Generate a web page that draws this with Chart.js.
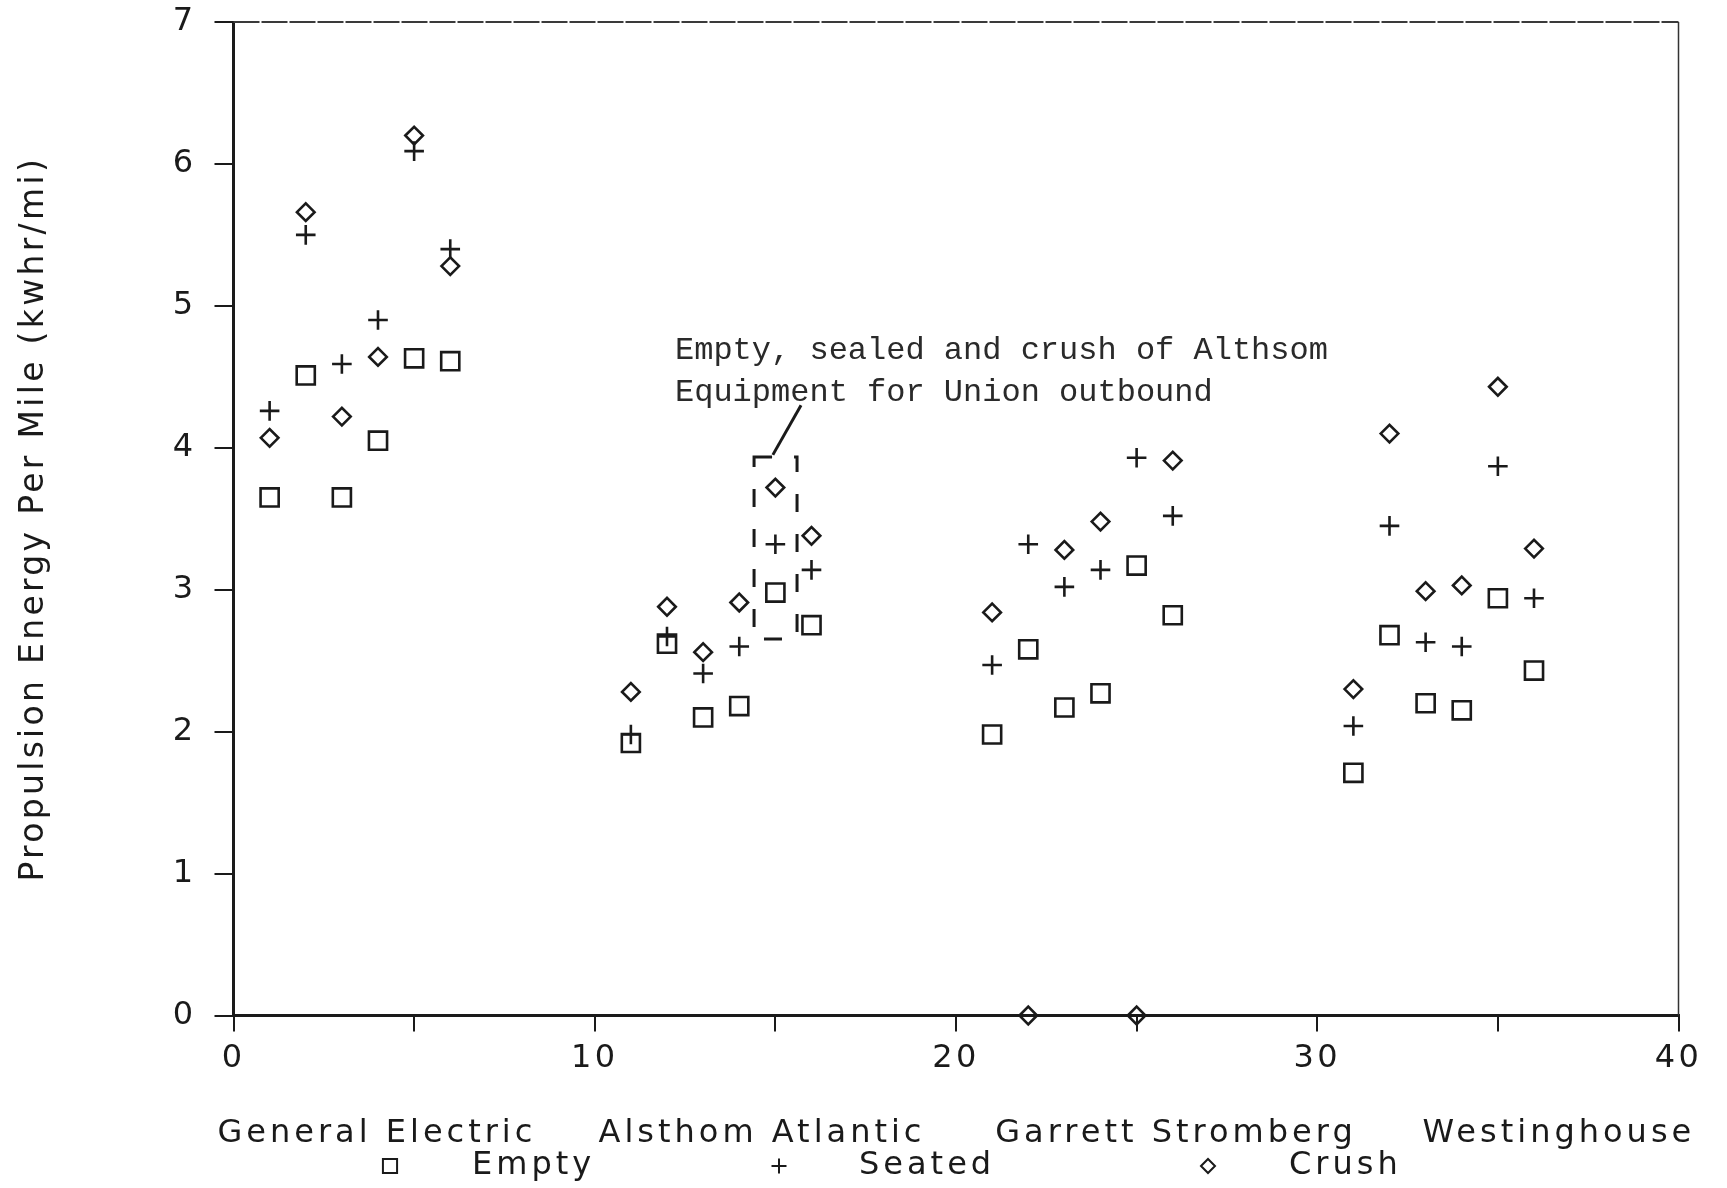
<!DOCTYPE html>
<html>
<head>
<meta charset="utf-8">
<script src="https://cdn.jsdelivr.net/npm/chart.js@4.4.1/dist/chart.umd.min.js"></script>
<style>
html, body { margin: 0; padding: 0; background: #fff; }
#energyChart { display: block; }
</style>
</head>
<body>
<canvas id="energyChart" width="1727" height="1188"></canvas>
<script>

// run numbers: 1-6 GE, 11-16 Alsthom, 21-26 Garrett, 31-36 Westinghouse
const runIndex = [1, 2, 3, 4, 5, 6, 11, 12, 13, 14, 15, 16, 21, 22, 23, 24, 25, 26, 31, 32, 33, 34, 35, 36];

const emptyEnergy = [3.65, 4.51, 3.65, 4.05, 4.63, 4.61, 1.92, 2.62, 2.10, 2.18, 2.98, 2.75, 1.98, 2.58, 2.17, 2.27, 3.17, 2.82, 1.71, 2.68, 2.20, 2.15, 2.94, 2.43];
const seatedEnergy = [4.26, 5.50, 4.59, 4.90, 6.09, 5.40, 1.98, 2.67, 2.41, 2.60, 3.32, 3.14, 2.47, 3.32, 3.02, 3.14, 3.93, 3.52, 2.04, 3.45, 2.63, 2.60, 3.87, 2.94];
const crushEnergy = [4.07, 5.66, 4.22, 4.64, 6.20, 5.28, 2.28, 2.88, 2.56, 2.91, 3.72, 3.38, 2.84, 0, 3.28, 3.48, 0, 3.91, 2.30, 4.10, 2.99, 3.03, 4.43, 3.29];

const manufacturers = ["General Electric", "Alsthom Atlantic", "Garrett Stromberg", "Westinghouse"];
const seriesNames = ["Empty", "Seated", "Crush"];
const noteLines = ["Empty, sealed and crush of Althsom", "Equipment for Union outbound"];
const yAxisTitle = "Propulsion Energy Per Mile (kwhr/mi)";


// layout bits (pixels / axis units), not data
const ink = "#1a1a1a";
const labelFont = "'DejaVu Sans', sans-serif";
const manufacturerCenters = [3.97, 14.63, 26.09, 36.69];
const legendMarkerX = [390, 779, 1208];
const legendTextX = [472, 859, 1289];
const noteBox = { x0: 14.41, x1: 15.60, y0: 2.653, y1: 3.935 };
const leader = { x0: 14.93, y0: 3.95, x1: 15.71, y1: 4.30 };


const toPoints = (values) => {

    const points = [];

    for (let i = 0; i < runIndex.length; i++) {

        points.push({ x: runIndex[i], y: values[i] });

    }

    return points;

};


const markerStyles = [
    { pointStyle: "rect", radius: 12.8, legendRadius: 10 },
    { pointStyle: "cross", radius: 9.8, legendRadius: 7.5 },
    { pointStyle: "rectRot", radius: 8.8, legendRadius: 7 }
];


const extrasPlugin = {

    id: "extras",

    beforeDraw: (chart) => {
        chart.ctx.letterSpacing = "3.3px";
    },

    beforeDatasetsDraw: (chart) => {
        chart.ctx.letterSpacing = "0px";
    },

    afterDraw: (chart) => {

        const ctx = chart.ctx;
        const area = chart.chartArea;
        const xs = chart.scales.x;
        const ys = chart.scales.y;

        ctx.save();

        // top and right frame
        ctx.strokeStyle = "#3a3a3a";
        ctx.lineWidth = 2;
        ctx.setLineDash([26, 2]);
        ctx.beginPath();
        ctx.moveTo(area.left, area.top);
        ctx.lineTo(area.right, area.top);
        ctx.stroke();
        ctx.setLineDash([]);
        ctx.strokeStyle = "#333";
        ctx.lineWidth = 1.5;
        ctx.beginPath();
        ctx.moveTo(area.right, area.top);
        ctx.lineTo(area.right, area.bottom);
        ctx.stroke();

        // dashed box round the Alsthom run
        ctx.strokeStyle = ink;
        ctx.lineWidth = 3;
        ctx.setLineDash([18, 22]);
        ctx.strokeRect(
            xs.getPixelForValue(noteBox.x0),
            ys.getPixelForValue(noteBox.y1),
            xs.getPixelForValue(noteBox.x1) - xs.getPixelForValue(noteBox.x0),
            ys.getPixelForValue(noteBox.y0) - ys.getPixelForValue(noteBox.y1)
        );
        ctx.setLineDash([]);
        ctx.beginPath();
        ctx.moveTo(xs.getPixelForValue(leader.x0), ys.getPixelForValue(leader.y0));
        ctx.lineTo(xs.getPixelForValue(leader.x1), ys.getPixelForValue(leader.y1));
        ctx.stroke();

        // note text
        ctx.fillStyle = "#2a2a2a";
        ctx.font = "32px 'Liberation Mono', monospace";
        ctx.textBaseline = "middle";
        ctx.textAlign = "left";
        ctx.fillText(noteLines[0], 675, 351);
        ctx.fillText(noteLines[1], 675, 393);

        // manufacturer names under the axis
        ctx.fillStyle = ink;
        ctx.font = "32px " + labelFont;
        ctx.letterSpacing = "4px";
        ctx.textAlign = "center";
        manufacturers.forEach((name, i) => {
            ctx.fillText(name, xs.getPixelForValue(manufacturerCenters[i]), 1134);
        });

        // legend row
        ctx.textAlign = "left";
        seriesNames.forEach((name, i) => {
            ctx.strokeStyle = ink;
            ctx.fillStyle = "rgba(0,0,0,0)";
            ctx.lineWidth = 2;
            Chart.helpers.drawPoint(ctx, {
                pointStyle: markerStyles[i].pointStyle,
                radius: markerStyles[i].legendRadius,
                rotation: 0,
                borderWidth: 2
            }, legendMarkerX[i], 1166);
            ctx.fillStyle = ink;
            ctx.fillText(name, legendTextX[i], 1166);
        });

        ctx.restore();

    }

};


const energyValues = [emptyEnergy, seatedEnergy, crushEnergy];

const datasets = seriesNames.map((name, i) => ({
    label: name,
    data: toPoints(energyValues[i]),
    pointStyle: markerStyles[i].pointStyle,
    pointRadius: markerStyles[i].radius,
    pointHoverRadius: markerStyles[i].radius,
    pointBorderWidth: 2.6,
    borderColor: ink,
    backgroundColor: "rgba(0,0,0,0)",
    showLine: false,
    clip: false
}));


new Chart(document.getElementById("energyChart"), {
    type: "scatter",
    data: { datasets: datasets },
    options: {
        responsive: false,
        animation: false,
        devicePixelRatio: 1,
        layout: { padding: { left: 0, top: 22, right: 48.5, bottom: 0 } },
        plugins: {
            legend: { display: false },
            tooltip: { enabled: false }
        },
        scales: {
            x: {
                type: "linear",
                min: 0,
                max: 40,
                ticks: {
                    stepSize: 5,
                    autoSkip: false,
                    maxRotation: 0,
                    padding: 8,
                    color: ink,
                    font: { family: labelFont, size: 32 },
                    callback: (v) => (v % 10 === 0 ? v : "")
                },
                grid: { drawOnChartArea: false, tickLength: 16, color: ink, lineWidth: 2 },
                border: { display: true, color: ink, width: 3 },
                afterFit: (scale) => {
                    scale.height = 172.5;
                    scale.paddingLeft = 0;
                    scale.paddingRight = 0;
                }
            },
            y: {
                type: "linear",
                min: 0,
                max: 7,
                ticks: {
                    stepSize: 1,
                    padding: 18,
                    color: ink,
                    font: { family: labelFont, size: 32 }
                },
                grid: { drawOnChartArea: false, tickLength: 19, color: ink, lineWidth: 2 },
                border: { display: true, color: ink, width: 3 },
                title: {
                    display: true,
                    text: yAxisTitle,
                    color: ink,
                    font: { family: labelFont, size: 33 },
                    padding: { top: 15, bottom: 0 }
                },
                afterFit: (scale) => {
                    scale.width = 233.5;
                    scale.paddingTop = 0;
                    scale.paddingBottom = 0;
                }
            }
        }
    },
    plugins: [extrasPlugin]
});

</script>
</body>
</html>
